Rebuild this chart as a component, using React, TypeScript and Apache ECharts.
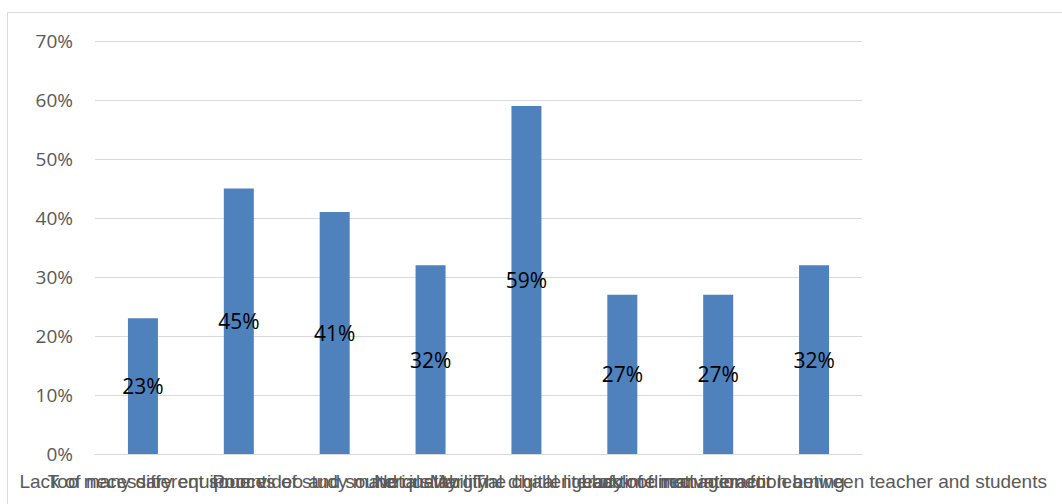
import React, { useEffect, useRef } from "react";
import * as echarts from "echarts";

const categories = [
  "Lack of necessary equipment",
  "Too many different sources of study materials",
  "Poor video and sound quality",
  "Net instability",
  "Marginal digital literacy",
  "The challenge of time management",
  "Lack of motivation for learning",
  "Lack of direct interaction between teacher and students",
];
const values = [23, 45, 41, 32, 59, 27, 27, 32];
const yTicks = [0, 10, 20, 30, 40, 50, 60, 70];

export default function App() {
  const ref = useRef<HTMLDivElement>(null);
  useEffect(() => {
    if (!ref.current) return;
    const chart = echarts.init(ref.current, undefined, { renderer: "svg" });
    chart.setOption({
      animation: false,
      backgroundColor: "#ffffff",
      graphic: [
        {
          type: "rect",
          shape: { x: 7.5, y: 12.5, width: 1100, height: 600 },
          style: { fill: "none", stroke: "#d9d9d9", lineWidth: 1 },
          silent: true,
        },
      ],
      grid: { left: 95, right: 200, top: 41, bottom: 50, containLabel: false },
      xAxis: {
        type: "category",
        data: categories,
        axisLine: { show: true, lineStyle: { color: "#d9d9d9", width: 1 } },
        axisTick: { show: false },
        axisLabel: {
          interval: 0,
          hideOverlap: false,
          color: "#595959",
          fontFamily: "Liberation Sans, Arial, sans-serif",
          fontSize: 19,
          margin: 18,
        },
      },
      yAxis: {
        type: "value",
        min: 0,
        max: 70,
        interval: 10,
        axisLine: { show: false },
        axisTick: { show: false },
        splitLine: { lineStyle: { color: "#d9d9d9", width: 1 } },
        axisLabel: {
          formatter: (v: number) => (yTicks.includes(v) ? v + "%" : ""),
          color: "#595959",
          fontFamily: "Open Sans, Liberation Sans, sans-serif",
          fontSize: 19,
          margin: 22,
        },
      },
      series: [
        {
          type: "bar",
          data: values,
          barWidth: 30,
          itemStyle: { color: "#4F81BD" },
          label: {
            show: true,
            position: "inside",
            formatter: (p: any) => p.value + "%",
            color: "#000000",
            fontFamily: "Open Sans, Liberation Sans, sans-serif",
            fontSize: 21,
          },
        },
      ],
    });
    return () => chart.dispose();
  }, []);
  return (
    <div
      ref={ref}
      style={{ position: "absolute", left: 0, top: 0, width: 1062, height: 504 }}
    />
  );
}
